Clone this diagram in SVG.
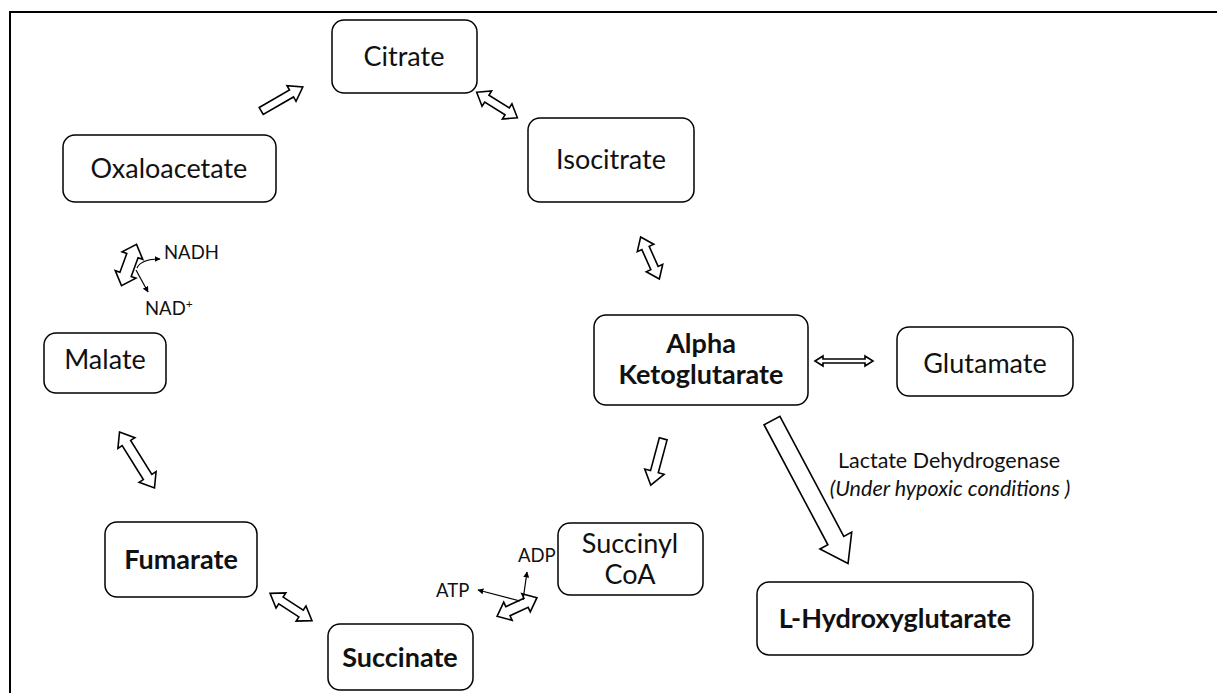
<svg xmlns="http://www.w3.org/2000/svg" width="1217" height="693" viewBox="0 0 1217 693">
<style>
.box{fill:#fff;stroke:#000;stroke-width:1.5}
.arr{fill:#fff;stroke:#000;stroke-width:1.6;stroke-linejoin:miter}
.t{font-family:Lato,"Open Sans","Liberation Sans",sans-serif;font-size:27px;fill:#111;text-anchor:middle}
.b{font-weight:bold}
.s{font-family:Lato,"Open Sans","Liberation Sans",sans-serif;font-size:18.5px;fill:#111}
.m{font-family:Lato,"Open Sans","Liberation Sans",sans-serif;font-size:21.5px;fill:#111;text-anchor:middle}
.thin{fill:none;stroke:#000;stroke-width:1.2}
</style>
<defs>
<marker id="ah" viewBox="0 0 10 10" refX="9" refY="5" markerWidth="5" markerHeight="5" orient="auto">
<path d="M0,0 L10,5 L0,10 z" fill="#000"/>
</marker>
</defs>
<rect width="1217" height="693" fill="#fff"/>
<path d="M10,693 L10,12 L1217,12" fill="none" stroke="#000" stroke-width="2"/>

<g id="citrate"><rect class="box" x="332" y="20" width="145" height="73" rx="12"/><text class="t" x="404" y="66">Citrate</text></g>
<g id="isocitrate"><rect class="box" x="528" y="118" width="166" height="84" rx="12"/><text class="t" x="611" y="169">Isocitrate</text></g>
<g id="oxaloacetate"><rect class="box" x="63" y="135" width="213" height="67" rx="12"/><text class="t" x="169" y="178">Oxaloacetate</text></g>
<g id="malate"><rect class="box" x="44" y="333" width="122" height="60" rx="12"/><text class="t" x="105" y="369">Malate</text></g>
<g id="akg"><rect class="box" x="594" y="315" width="214" height="90" rx="12"/><text class="t b" x="701" y="353">Alpha</text><text class="t b" x="701" y="384">Ketoglutarate</text></g>
<g id="glutamate"><rect class="box" x="897" y="327" width="176" height="69" rx="12"/><text class="t" x="985" y="373">Glutamate</text></g>
<g id="fumarate"><rect class="box" x="105" y="522" width="152" height="75" rx="12"/><text class="t b" x="181" y="569">Fumarate</text></g>
<g id="succinate"><rect class="box" x="328" y="624" width="145" height="66" rx="12"/><text class="t b" x="400" y="667">Succinate</text></g>
<g id="succinylcoa"><rect class="box" x="558" y="523" width="145" height="72" rx="12"/><text class="t" x="630" y="553">Succinyl</text><text class="t" x="630" y="584">CoA</text></g>
<g id="lhg"><rect class="box" x="757" y="582" width="276" height="73" rx="12"/><text class="t b" x="895" y="628">L-Hydroxyglutarate</text></g>

<g id="connectors">
<polygon class="arr" transform="translate(282,99) rotate(-30)" points="-24,-4 11,-4 11,-9 24,0 11,9 11,4 -24,4"/>
<polygon class="arr" transform="translate(497,105) rotate(32)" points="-24,0 -12,-9 -12,-4 12,-4 12,-9 24,0 12,9 12,4 -12,4 -12,9"/>
<polygon class="arr" transform="translate(650,258) rotate(66)" points="-23,0 -11,-9 -11,-4 11,-4 11,-9 23,0 11,9 11,4 -11,4 -11,9"/>
<polygon class="arr" transform="translate(844,361)" points="-29,0 -21,-5 -21,-2 21,-2 21,-5 29,0 21,5 21,2 -21,2 -21,5"/>
<polygon class="arr" transform="translate(657,462) rotate(105)" points="-24,-4 10,-4 10,-10 24,0 10,10 10,4 -24,4"/>
<polygon class="arr" transform="translate(810,492) rotate(62)" points="-81,-9 55,-9 55,-18 81,0 55,18 55,9 -81,9"/>
<polygon class="arr" transform="translate(517,607) rotate(-25)" points="-22,0 -10,-10 -10,-5 10,-5 10,-10 22,0 10,10 10,5 -10,5 -10,10"/>
<polygon class="arr" transform="translate(291,607) rotate(33)" points="-25,0 -12,-9 -12,-4 12,-4 12,-9 25,0 12,9 12,4 -12,4 -12,9"/>
<polygon class="arr" transform="translate(137,460) rotate(58)" points="-33,0 -20,-10 -20,-5 20,-5 20,-10 33,0 20,10 20,5 -20,5 -20,10"/>
<polygon class="arr" transform="translate(129,265) rotate(110)" points="-22,0 -10,-11 -10,-6 10,-6 10,-11 22,0 10,11 10,6 -10,6 -10,11"/>
<path class="thin" d="M137,268 Q141,259 160,259" marker-end="url(#ah)"/>
<path class="thin" d="M136,270 L148,292" marker-end="url(#ah)"/>
<path class="thin" d="M520,601 L478,590" marker-end="url(#ah)"/>
<path class="thin" d="M523,600 L527,572" marker-end="url(#ah)"/>
</g>

<g id="labels">
<text class="s" x="164" y="259">NADH</text>
<text class="s" x="145" y="315">NAD<tspan font-size="12" dy="-7">+</tspan></text>
<text class="s" x="436" y="597">ATP</text>
<text class="s" x="518" y="562">ADP</text>
<text class="m" x="949" y="468">Lactate Dehydrogenase</text>
<text class="m" x="950" y="496" font-style="italic">(Under hypoxic conditions )</text>
</g>
</svg>
